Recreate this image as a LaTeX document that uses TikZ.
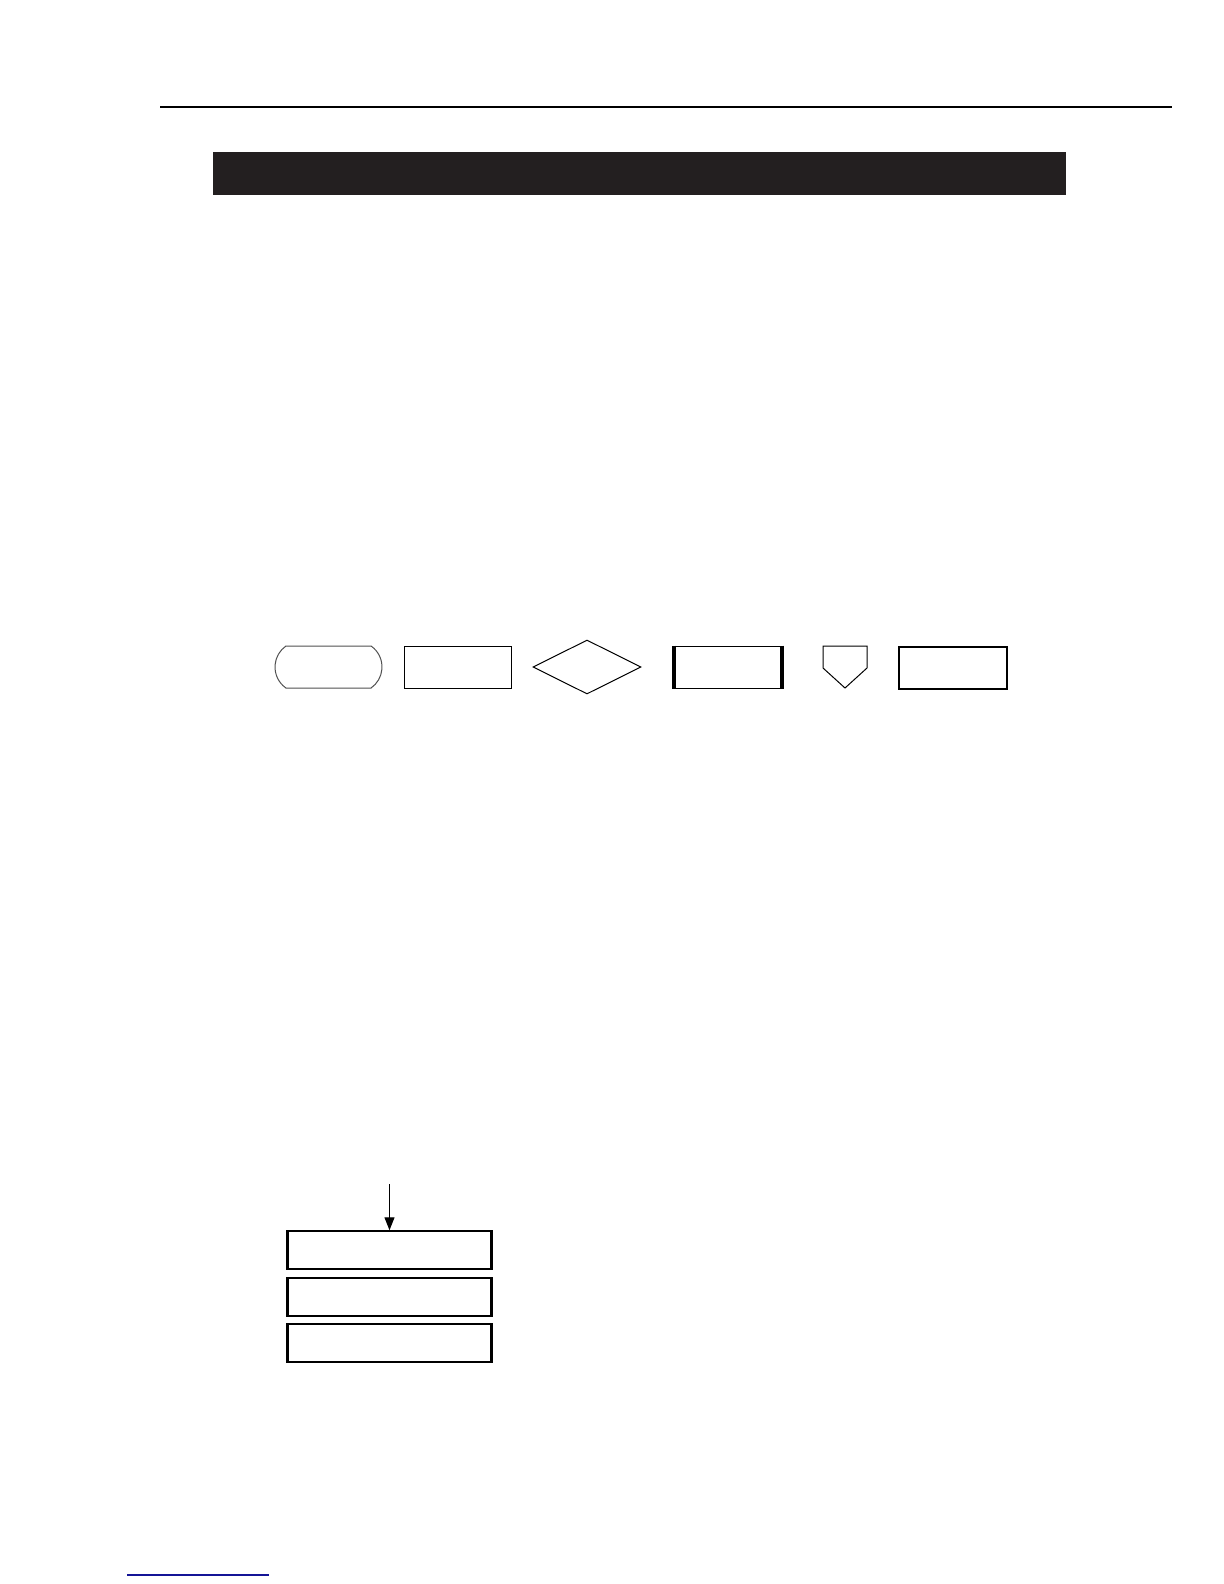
\documentclass[tikz,border=0pt]{standalone}
\usepackage{tikz}
\usetikzlibrary{shapes.misc, shapes.geometric}
\usetikzlibrary{arrows,arrows.meta}
\definecolor{balken}{RGB}{35,31,32}
\definecolor{linkblau}{RGB}{20,20,150}
\definecolor{rahmengrau}{RGB}{80,80,80}

\tikzset{
    symbol/.style={draw=black, line width=0.5pt, inner sep=0pt, minimum width=53.5pt, minimum height=21pt},
    terminal/.style={symbol, draw=rahmengrau, rounded rectangle, rounded rectangle arc length=110},
    raute/.style={symbol, diamond, minimum width=54pt, minimum height=27pt},
    fettbox/.style={symbol, line width=1pt},
    stapelbox/.style={symbol, line width=0.75pt, minimum width=101.5pt, minimum height=19pt},
    seitenbalken/.style={line width=2pt, line cap=butt},
}

\begin{document}
\begin{tikzpicture}[x=0.5pt, y=-0.5pt, >={Triangle[length=6.5pt,width=5pt]}]

    \useasboundingbox (0,0) rectangle (1224,1584);

    % kopfzeile
    \draw[line width=1.25pt] (160,107) -- (1172,107);
    \fill[balken] (213,152) rectangle (1066,195);

    % symbole
    \node[terminal] (term) at (328.5,667) {};
    \node[symbol] (proz) at (457.5,667) {};
    \node[raute] (entsch) at (587,667) {};
    \node[symbol] (unter) at (727.5,667) {};
    \draw[seitenbalken] (unter.north west) -- (unter.south west);
    \draw[seitenbalken] (unter.north east) -- (unter.south east);
    \coordinate (verb) at (845,646);
    \draw[line width=0.5pt] (verb) ++(-22,0) -- ++(44,0) -- ++(0,22) -- (845,688) -- (823,668) -- cycle;
    \node[fettbox, minimum width=54pt] (rahmen) at (953,668) {};

    % stapel
    \coordinate (start) at (389.5,1184);
    \node[stapelbox] (box1) at (389.5,1250) {};
    \node[stapelbox] (box2) at (389.5,1297) {};
    \node[stapelbox] (box3) at (389.5,1343) {};
    \foreach \b in {box1,box2,box3}{
        \draw[seitenbalken, line width=1.5pt] (\b.north west) -- (\b.south west);
        \draw[seitenbalken, line width=1.5pt] (\b.north east) -- (\b.south east);
    }
    \draw[->, line width=0.6pt] (start) -- (box1.north);

    % fusszeile
    \draw[linkblau, line width=0.75pt] (127,1575) -- (269,1575);

\end{tikzpicture}
\end{document}
